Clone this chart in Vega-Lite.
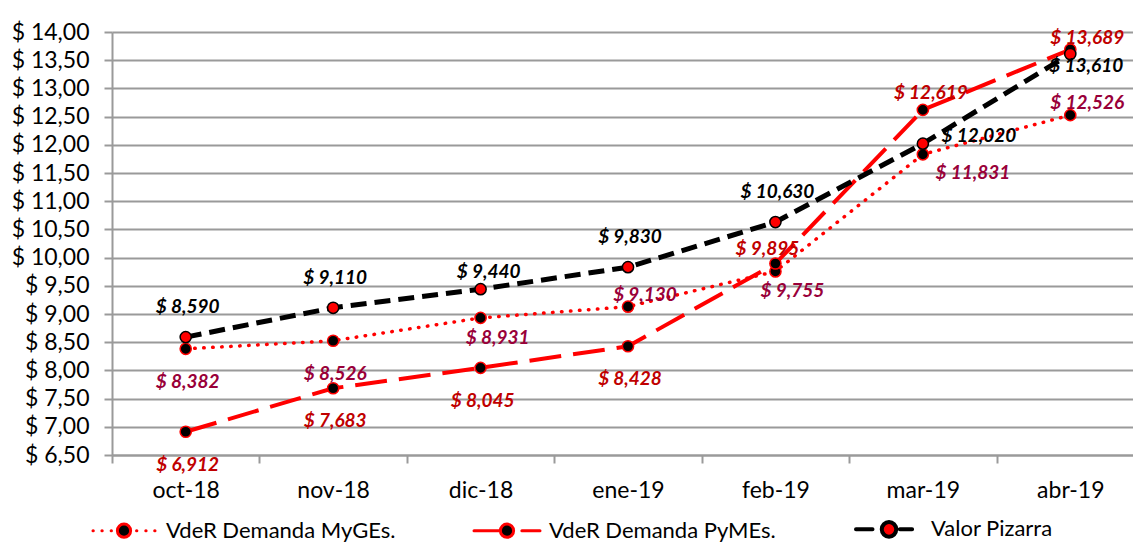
{
  "$schema": "https://vega.github.io/schema/vega-lite/v6.json",
  "autosize": "none",
  "width": 1021,
  "height": 423,
  "padding": {"left": 112, "top": 32, "right": 0, "bottom": 95},
  "background": "white",
  "config": {
    "locale": {"number": {"decimal": ",", "thousands": ".", "grouping": [3], "currency": ["$ ", ""]}},
    "view": {"stroke": null},
    "font": "Lato"
  },
  "data": {
    "values": [
      {"mes": "oct-18", "serie": "VdeR Demanda MyGEs.", "valor": 8.382},
      {"mes": "nov-18", "serie": "VdeR Demanda MyGEs.", "valor": 8.526},
      {"mes": "dic-18", "serie": "VdeR Demanda MyGEs.", "valor": 8.931},
      {"mes": "ene-19", "serie": "VdeR Demanda MyGEs.", "valor": 9.130},
      {"mes": "feb-19", "serie": "VdeR Demanda MyGEs.", "valor": 9.755},
      {"mes": "mar-19", "serie": "VdeR Demanda MyGEs.", "valor": 11.831},
      {"mes": "abr-19", "serie": "VdeR Demanda MyGEs.", "valor": 12.526},
      {"mes": "oct-18", "serie": "VdeR Demanda PyMEs.", "valor": 6.912},
      {"mes": "nov-18", "serie": "VdeR Demanda PyMEs.", "valor": 7.683},
      {"mes": "dic-18", "serie": "VdeR Demanda PyMEs.", "valor": 8.045},
      {"mes": "ene-19", "serie": "VdeR Demanda PyMEs.", "valor": 8.428},
      {"mes": "feb-19", "serie": "VdeR Demanda PyMEs.", "valor": 9.895},
      {"mes": "mar-19", "serie": "VdeR Demanda PyMEs.", "valor": 12.619},
      {"mes": "abr-19", "serie": "VdeR Demanda PyMEs.", "valor": 13.689},
      {"mes": "oct-18", "serie": "Valor Pizarra", "valor": 8.590},
      {"mes": "nov-18", "serie": "Valor Pizarra", "valor": 9.110},
      {"mes": "dic-18", "serie": "Valor Pizarra", "valor": 9.440},
      {"mes": "ene-19", "serie": "Valor Pizarra", "valor": 9.830},
      {"mes": "feb-19", "serie": "Valor Pizarra", "valor": 10.630},
      {"mes": "mar-19", "serie": "Valor Pizarra", "valor": 12.020},
      {"mes": "abr-19", "serie": "Valor Pizarra", "valor": 13.610}
    ]
  },
  "encoding": {
    "x": {
      "field": "mes", "type": "ordinal", "sort": null,
      "scale": {"type": "band", "paddingInner": 0, "paddingOuter": 0, "range": [0, 1032]},
      "axis": {
        "title": null, "labelAngle": 0, "tickBand": "extent",
        "domainColor": "#9a9a9a", "domainWidth": 2,
        "tickColor": "#9a9a9a", "tickWidth": 2, "tickSize": 8,
        "labelFont": "Lato", "labelFontSize": 23, "labelColor": "#000000", "labelPadding": 16,
        "grid": false
      }
    },
    "y": {
      "field": "valor", "type": "quantitative",
      "scale": {"domain": [6.5, 14], "nice": false, "zero": false},
      "axis": {
        "title": null, "values": [6.5, 7, 7.5, 8, 8.5, 9, 9.5, 10, 10.5, 11, 11.5, 12, 12.5, 13, 13.5, 14],
        "format": "$.2f",
        "grid": true, "gridColor": "#9a9a9a", "gridWidth": 2,
        "domainColor": "#9a9a9a", "domainWidth": 2,
        "tickColor": "#9a9a9a", "tickWidth": 2, "tickSize": 8,
        "labelFont": "Lato", "labelFontSize": 23, "labelColor": "#000000", "labelPadding": 15
      }
    }
  },
  "layer": [
    {
      "transform": [{"filter": "datum.serie === 'VdeR Demanda MyGEs.'"}],
      "mark": {"type": "line", "color": "#ff0000", "strokeWidth": 3.5, "strokeDash": [0.5, 8.5], "strokeCap": "round"}
    },
    {
      "transform": [{"filter": "datum.serie === 'VdeR Demanda PyMEs.'"}],
      "mark": {"type": "line", "color": "#ff0000", "strokeWidth": 4, "strokeDash": [32, 12]}
    },
    {
      "transform": [{"filter": "datum.serie === 'Valor Pizarra'"}],
      "mark": {"type": "line", "color": "#000000", "strokeWidth": 5, "strokeDash": [16, 8]}
    },
    {
      "mark": {"type": "point", "shape": "circle", "filled": true, "size": 125, "opacity": 0},
      "encoding": {
        "fill": {
          "field": "serie", "type": "nominal",
          "scale": {"domain": ["VdeR Demanda MyGEs.", "VdeR Demanda PyMEs.", "Valor Pizarra"], "range": ["#000000", "#000000", "#ff0000"]},
          "legend": {
            "title": null, "orient": "none", "legendX": 1, "legendY": 486,
            "direction": "horizontal", "columnPadding": 72, "padding": 0,
            "symbolSize": 4356, "symbolOpacity": 1,
            "labelFont": "Lato", "labelFontSize": 22, "labelColor": "#000000", "labelOffset": 31, "labelLimit": 400,
            "encode": {
              "symbols": {
                "update": {
                  "shape": {"signal": "datum.value === 'VdeR Demanda MyGEs.' ? 'M-0.94,0h0.01M-0.67,0h0.01M-0.39,0h0.01M0.38,0h0.01M0.66,0h0.01M0.93,0h0.01M-0.2,0a0.2,0.2 0 1,0 0.4,0a0.2,0.2 0 1,0 -0.4,0Z' : datum.value === 'VdeR Demanda PyMEs.' ? 'M-1,0H-0.21M0.45,0H1M-0.2,0a0.2,0.2 0 1,0 0.4,0a0.2,0.2 0 1,0 -0.4,0Z' : 'M-1,0H-0.5M0.33,0H0.7M-0.22,0a0.22,0.22 0 1,0 0.44,0a0.22,0.22 0 1,0 -0.44,0Z'"},
                  "fill": {"signal": "datum.value === 'Valor Pizarra' ? '#ff0000' : '#000000'"},
                  "stroke": {"signal": "datum.value === 'Valor Pizarra' ? '#000000' : '#ff0000'"},
                  "strokeWidth": {"signal": "datum.value === 'Valor Pizarra' ? 4 : 3"},
                  "strokeCap": {"value": "round"},
                  "opacity": {"value": 1},
                  "fillOpacity": {"value": 1},
                  "strokeOpacity": {"value": 1}
                }
              }
            }
          }
        }
      }
    },
    {
      "transform": [{"filter": "datum.serie === 'VdeR Demanda MyGEs.'"}],
      "mark": {"type": "point", "shape": "circle", "filled": true, "size": 125, "strokeWidth": 1.5, "opacity": 1, "fill": "#000000", "stroke": "#ff0000"}
    },
    {
      "transform": [{"filter": "datum.serie === 'VdeR Demanda PyMEs.'"}],
      "mark": {"type": "point", "shape": "circle", "filled": true, "size": 125, "strokeWidth": 1.5, "opacity": 1, "fill": "#000000", "stroke": "#ff0000"}
    },
    {
      "transform": [{"filter": "datum.serie === 'Valor Pizarra'"}],
      "mark": {"type": "point", "shape": "circle", "filled": true, "size": 125, "strokeWidth": 1.5, "opacity": 1, "fill": "#ff0000", "stroke": "#000000"}
    },
    {
      "transform": [{"filter": "(datum.serie === 'VdeR Demanda MyGEs.' && indexof(['oct-18','nov-18'], datum.mes) >= 0) || (datum.serie === 'VdeR Demanda PyMEs.' && indexof(['oct-18','nov-18','dic-18','ene-19'], datum.mes) >= 0)"}],
      "mark": {"type": "text", "fontSize": 19, "fontWeight": "bold", "fontStyle": "italic", "align": "center", "baseline": "middle", "dx": 2, "dy": 33},
      "encoding": {"text": {"field": "valor", "type": "quantitative", "format": "$.3f"}, "color": {"field": "serie", "type": "nominal", "scale": {"domain": ["VdeR Demanda MyGEs.", "VdeR Demanda PyMEs.", "Valor Pizarra"], "range": ["#990039", "#c00000", "#000000"]}, "legend": null}}
    },
    {
      "transform": [{"filter": "datum.serie === 'Valor Pizarra' && indexof(['oct-18','nov-18','ene-19','feb-19'], datum.mes) >= 0"}],
      "mark": {"type": "text", "fontSize": 19, "fontWeight": "bold", "fontStyle": "italic", "align": "center", "baseline": "middle", "dx": 2, "dy": -30},
      "encoding": {"text": {"field": "valor", "type": "quantitative", "format": "$.3f"}, "color": {"field": "serie", "type": "nominal", "legend": null}}
    },
    {
      "transform": [{"filter": "(datum.serie === 'VdeR Demanda MyGEs.' && indexof(['ene-19','abr-19'], datum.mes) >= 0) || (datum.serie === 'VdeR Demanda PyMEs.' && datum.mes === 'abr-19')"}],
      "mark": {"type": "text", "fontSize": 19, "fontWeight": "bold", "fontStyle": "italic", "align": "center", "baseline": "middle", "dx": 17, "dy": -12},
      "encoding": {"text": {"field": "valor", "type": "quantitative", "format": "$.3f"}, "color": {"field": "serie", "type": "nominal", "legend": null}}
    },
    {
      "transform": [{"filter": "(datum.serie === 'Valor Pizarra' && datum.mes === 'dic-18') || (datum.serie === 'VdeR Demanda PyMEs.' && datum.mes === 'mar-19')"}],
      "mark": {"type": "text", "fontSize": 19, "fontWeight": "bold", "fontStyle": "italic", "align": "center", "baseline": "middle", "dx": 8, "dy": -17},
      "encoding": {"text": {"field": "valor", "type": "quantitative", "format": "$.3f"}, "color": {"field": "serie", "type": "nominal", "legend": null}}
    },
    {
      "transform": [{"filter": "datum.serie === 'VdeR Demanda PyMEs.' && datum.mes === 'feb-19'"}],
      "mark": {"type": "text", "fontSize": 19, "fontWeight": "bold", "fontStyle": "italic", "align": "center", "baseline": "middle", "dx": -8, "dy": -15},
      "encoding": {"text": {"field": "valor", "type": "quantitative", "format": "$.3f"}, "color": {"field": "serie", "type": "nominal", "legend": null}}
    },
    {
      "transform": [{"filter": "datum.serie === 'VdeR Demanda MyGEs.' && indexof(['dic-18','feb-19'], datum.mes) >= 0"}],
      "mark": {"type": "text", "fontSize": 19, "fontWeight": "bold", "fontStyle": "italic", "align": "center", "baseline": "middle", "dx": 17, "dy": 20},
      "encoding": {"text": {"field": "valor", "type": "quantitative", "format": "$.3f"}, "color": {"field": "serie", "type": "nominal", "legend": null}}
    },
    {
      "transform": [{"filter": "datum.serie === 'VdeR Demanda MyGEs.' && datum.mes === 'mar-19'"}],
      "mark": {"type": "text", "fontSize": 19, "fontWeight": "bold", "fontStyle": "italic", "align": "center", "baseline": "middle", "dx": 50, "dy": 19},
      "encoding": {"text": {"field": "valor", "type": "quantitative", "format": "$.3f"}, "color": {"field": "serie", "type": "nominal", "legend": null}}
    },
    {
      "transform": [{"filter": "datum.serie === 'Valor Pizarra' && datum.mes === 'mar-19'"}],
      "mark": {"type": "text", "fontSize": 19, "fontWeight": "bold", "fontStyle": "italic", "align": "center", "baseline": "middle", "dx": 56, "dy": -8},
      "encoding": {"text": {"field": "valor", "type": "quantitative", "format": "$.3f"}, "color": {"field": "serie", "type": "nominal", "legend": null}}
    },
    {
      "transform": [{"filter": "datum.serie === 'Valor Pizarra' && datum.mes === 'abr-19'"}],
      "mark": {"type": "text", "fontSize": 19, "fontWeight": "bold", "fontStyle": "italic", "align": "center", "baseline": "middle", "dx": 16, "dy": 12},
      "encoding": {"text": {"field": "valor", "type": "quantitative", "format": "$.3f"}, "color": {"field": "serie", "type": "nominal", "legend": null}}
    }
  ]
}
